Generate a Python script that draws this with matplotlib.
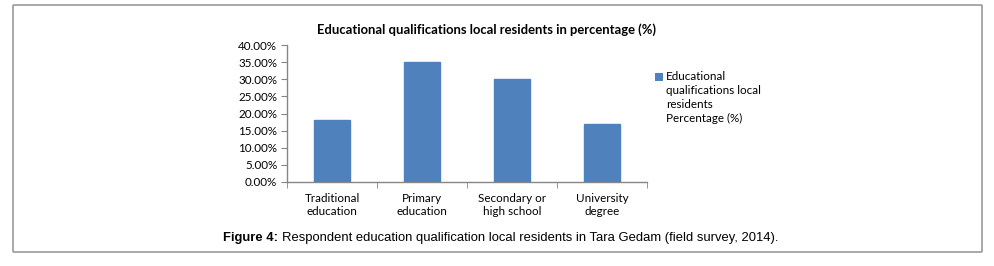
import matplotlib.pyplot as plt
from matplotlib.patches import FancyBboxPatch, Rectangle
from matplotlib.ticker import FuncFormatter

# data
categories = ['Traditional\neducation', 'Primary\neducation', 'Secondary or\nhigh school', 'University\ndegree']
values = [18, 35, 30, 17]
yticks = [0, 5, 10, 15, 20, 25, 30, 35, 40]
legend_label = 'Educational\nqualifications local\nresidents\nPercentage (%)'

W, H = 995, 266
fig = plt.figure(figsize=(W / 100, H / 100), dpi=100)

def fx(px):
    return px / W

def fy(py):
    return 1 - py / H

# outer frame
frame = FancyBboxPatch((fx(13), fy(252)), fx(982) - fx(13), fy(5) - fy(252),
                       boxstyle='round,pad=0,rounding_size=0.002',
                       transform=fig.transFigure, facecolor='none',
                       edgecolor='#9a9a9a', linewidth=1.2)
fig.patches.append(frame)

ax = fig.add_axes([fx(287), fy(182), fx(647) - fx(287), fy(45) - fy(182)])
ax.set_facecolor('none')
x = list(range(len(categories)))
ax.bar(x, values, width=0.4, color='#4f81bd', edgecolor='#4f81bd', zorder=3)
ax.set_xlim(-0.5, len(categories) - 0.5)
ax.set_ylim(0, 40)
ax.set_yticks(yticks)
ax.yaxis.set_major_formatter(FuncFormatter(lambda v, p: f'{v:.2f}%'))

font = 'Lato'
ax.set_xticks(x)
ax.set_xticklabels(categories, fontsize=8.4, family=font, linespacing=1.25)
ax.set_xticks([i - 0.5 for i in range(len(categories) + 1)], minor=True)
ax.tick_params(axis='x', which='major', length=0, pad=8)
ax.tick_params(axis='x', which='minor', length=4, color='#868686', direction='out')
ax.tick_params(axis='y', length=4, color='#868686', direction='out', pad=3, labelsize=8.4)
for lab in ax.get_yticklabels():
    lab.set_family(font)

for s in ['top', 'right']:
    ax.spines[s].set_visible(False)
for s in ['left', 'bottom']:
    ax.spines[s].set_color('#868686')
    ax.spines[s].set_linewidth(1.0)

fig.text(fx(487), fy(30), 'Educational qualifications local residents in percentage (%)',
         ha='center', va='center', fontsize=9.4, fontweight='bold', family=font)

# legend
fig.patches.append(Rectangle((fx(655), fy(81)), fx(8), fy(73) - fy(81),
                             transform=fig.transFigure, facecolor='#4f81bd', edgecolor='none'))
fig.text(fx(666), fy(70.5), legend_label, ha='left', va='top', fontsize=8.4,
         family=font, linespacing=1.35)

# caption
fig.text(fx(223), fy(238), 'Figure 4:', ha='left', va='center', fontsize=9.4,
         fontweight='bold', family='Liberation Sans')
fig.text(fx(282), fy(238), 'Respondent education qualification local residents in Tara Gedam (field survey, 2014).',
         ha='left', va='center', fontsize=9.4, family='Liberation Sans')

fig.savefig('out.png', dpi=100)
